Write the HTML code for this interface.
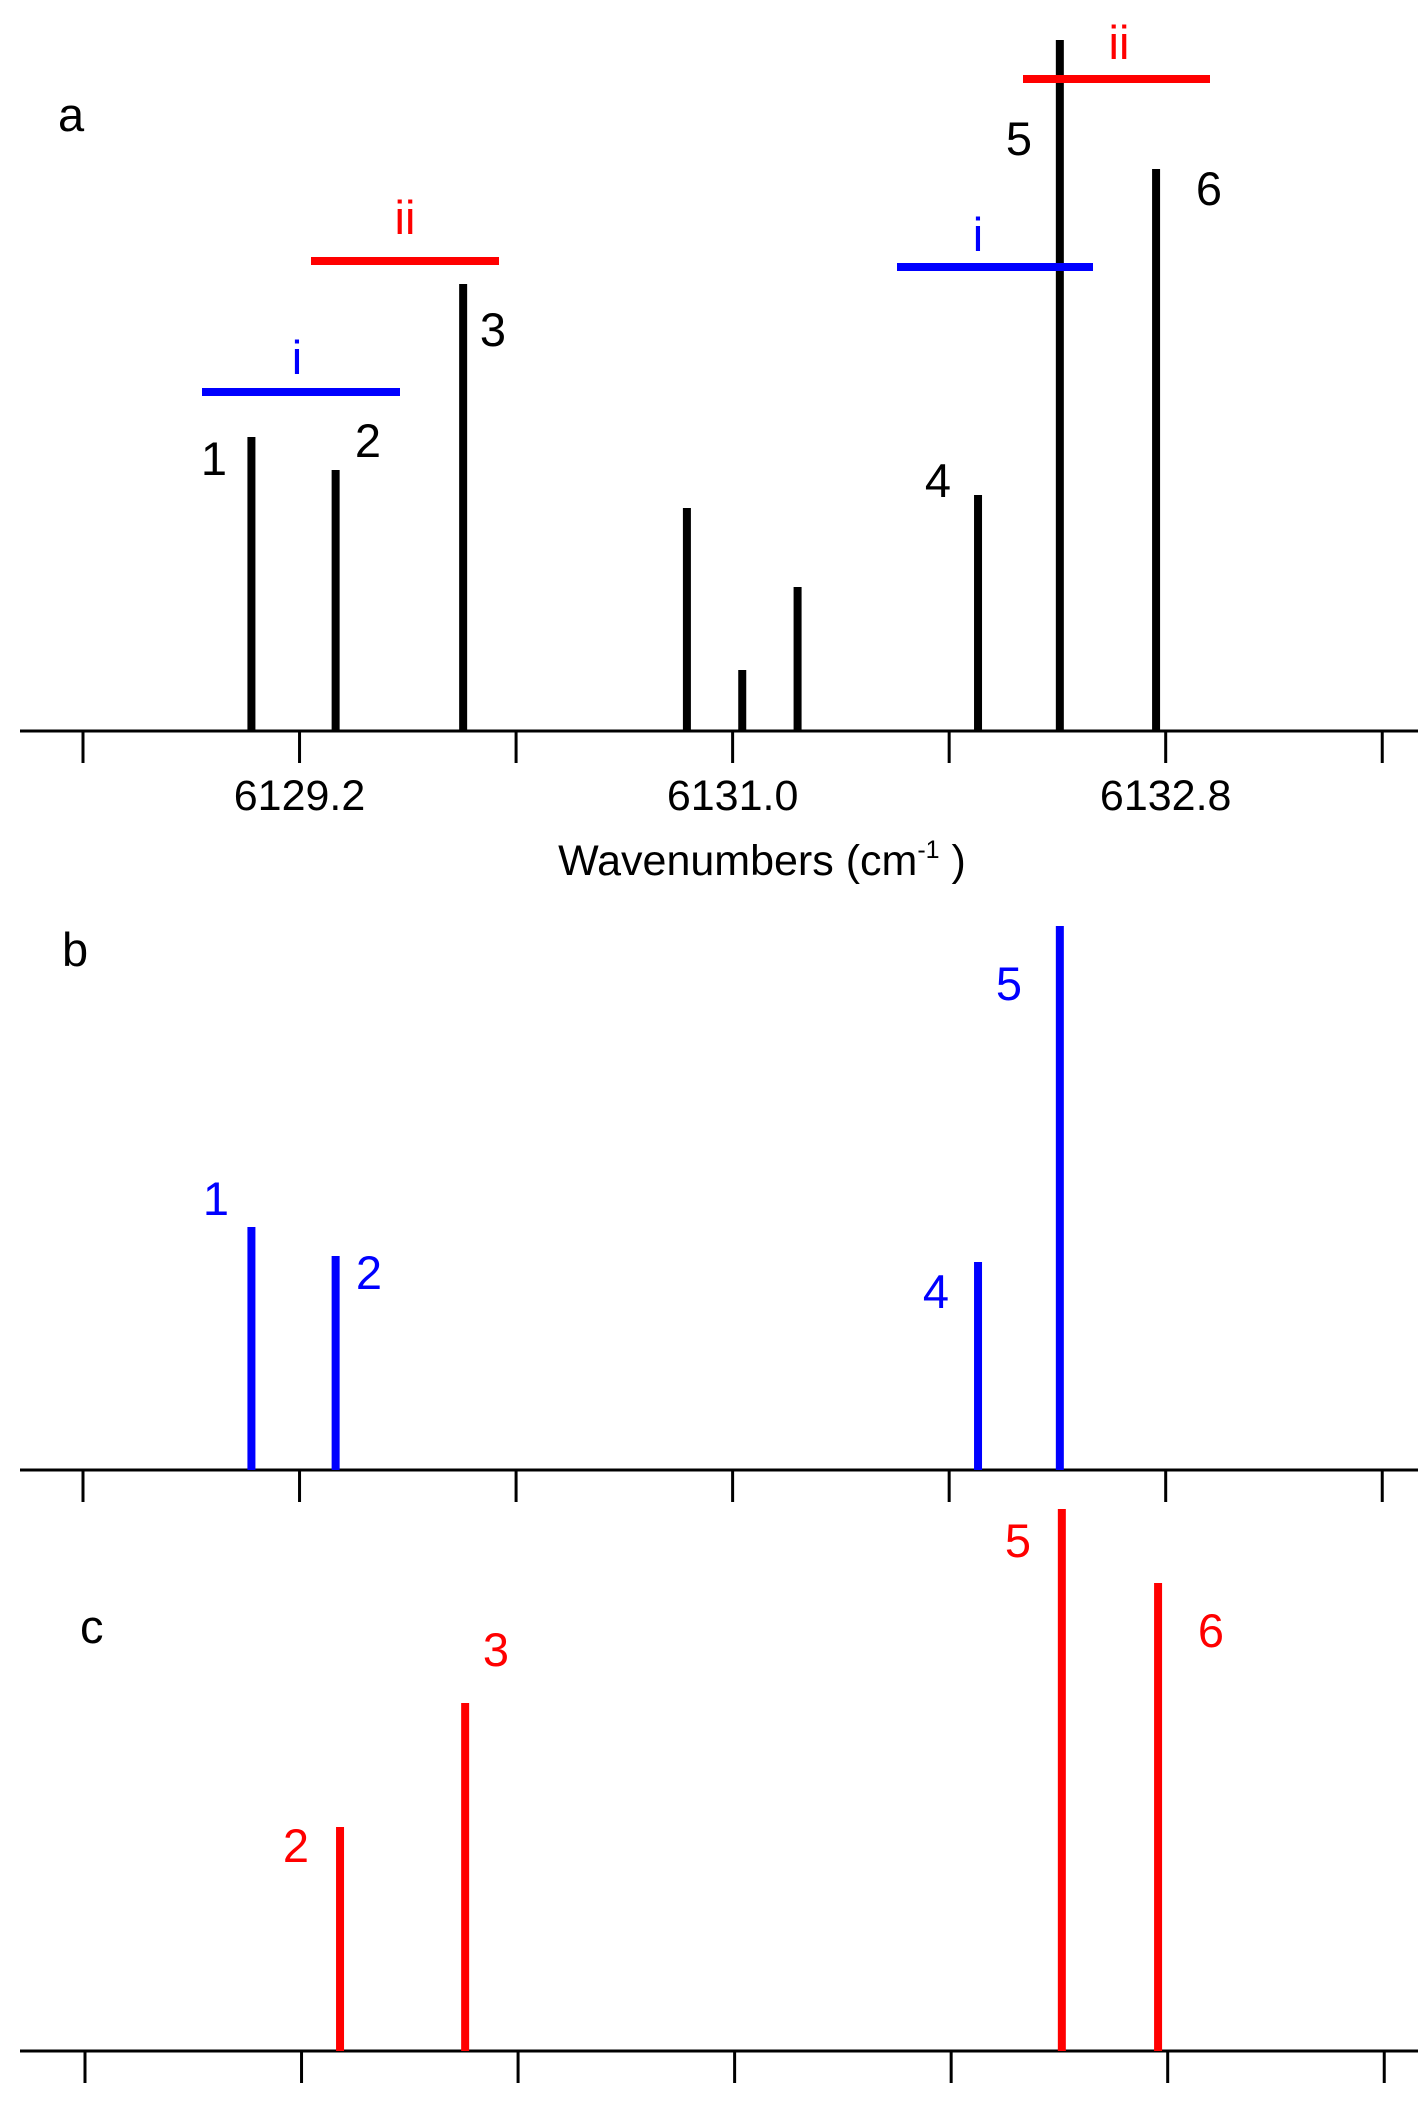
<!DOCTYPE html>
<html><head><meta charset="utf-8"><style>
html,body{margin:0;padding:0;background:#fff;}
svg{display:block;font-family:"Liberation Sans",Arial,sans-serif;}
</style></head><body>
<div style="position:relative;width:1428px;height:2119px;">
<svg id="chart" width="1428" height="2119" viewBox="0 0 1428 2119" xmlns="http://www.w3.org/2000/svg" style="position:absolute;left:0;top:0"></svg>
<svg width="1428" height="2119" style="position:absolute;left:0;top:0;font-family:'Liberation Sans',Arial,sans-serif" xmlns="http://www.w3.org/2000/svg">
<g font-size="47" text-anchor="middle">
<text x="58" y="131" text-anchor="start" fill="#000">a</text>
<text x="214" y="475" fill="#000">1</text>
<text x="368" y="457" fill="#000">2</text>
<text x="493" y="346" fill="#000">3</text>
<text x="938" y="497" fill="#000">4</text>
<text x="1019" y="155" fill="#000">5</text>
<text x="1209" y="205" fill="#000">6</text>
<text x="297" y="374" fill="#0000ff">i</text>
<text x="405" y="234" fill="#ff0000">ii</text>
<text x="978" y="251" fill="#0000ff">i</text>
<text x="1119" y="59" fill="#ff0000">ii</text>
<text x="762" y="875" font-size="43" fill="#000">Wavenumbers (cm<tspan font-size="25" dy="-17">-1</tspan><tspan dy="17"> )</tspan></text>

<text x="62" y="966" text-anchor="start" fill="#000">b</text>
<text x="216" y="1215" fill="#0000ff">1</text>
<text x="369" y="1289" fill="#0000ff">2</text>
<text x="936" y="1308" fill="#0000ff">4</text>
<text x="1009" y="1000" fill="#0000ff">5</text>

<text x="80" y="1643" text-anchor="start" fill="#000">c</text>
<text x="296" y="1862" fill="#ff0000">2</text>
<text x="496" y="1666" fill="#ff0000">3</text>
<text x="1018" y="1557" fill="#ff0000">5</text>
<text x="1211" y="1647" fill="#ff0000">6</text>
</g>
<rect x="202" y="388" width="198" height="8" fill="#0000ff"/>
<rect x="311" y="257" width="188" height="8" fill="#ff0000"/>
<rect x="897" y="263" width="196" height="8" fill="#0000ff"/>
<rect x="1023" y="75" width="187" height="8" fill="#ff0000"/>
</svg>
</div>
<script>
// Wavenumbers (cm^-1) and intensities (arbitrary units)
const tickValues = [6128.3, 6129.2, 6130.1, 6131.0, 6131.9, 6132.8, 6133.7];
const tickLabels = ["", "6129.2", "", "6131.0", "", "6132.8", ""];
const aPositions = [6129.00, 6129.35, 6129.88, 6130.81, 6131.04, 6131.27, 6132.02, 6132.36, 6132.76];
const aIntensities = [294, 261, 447, 223, 61, 144, 236, 691, 562];
const bPositions = [6129.00, 6129.35, 6132.02, 6132.36];
const bIntensities = [243, 214, 208, 544];
const cPositions = [6129.36, 6129.88, 6132.36, 6132.76];
const cIntensities = [224, 348, 542, 468];

const svg = document.getElementById('chart');
const NS = 'http://www.w3.org/2000/svg';
function mk(tag, attrs, parent) {
  const e = document.createElementNS(NS, tag);
  for (const k in attrs) e.setAttribute(k, attrs[k]);
  (parent || svg).appendChild(e);
  return e;
}
function xScale(v, off) { return 83 + off + (v - 6128.3) * 240.6; }

const panels = [
  {id: 'a', base: 731, off: 0, pos: aPositions, val: aIntensities, color: '#000'},
  {id: 'b', base: 1470, off: 0, pos: bPositions, val: bIntensities, color: '#0000ff'},
  {id: 'c', base: 2051, off: 2, pos: cPositions, val: cIntensities, color: '#ff0000'}
];

panels.forEach(p => {
  const g = mk('g', {});
  
  
  const ax = mk('line', {x1: 20, x2: 1418, y1: p.base, y2: p.base, stroke: '#000', 'stroke-width': 3}, g);
  
  
  tickValues.forEach((t, i) => {
    const x = xScale(t, p.off);
    const tk = mk('line', {x1: x, x2: x, y1: p.base, y2: p.base + 32, stroke: '#000', 'stroke-width': 3}, g);
    
    
    if (p.id === 'a' && tickLabels[i]) {
      const tl = mk('text', {x: x, y: 810, 'font-size': 43, 'text-anchor': 'middle', fill: '#000'}, g);
      tl.textContent = tickLabels[i];
      
      
    }
  });
  p.pos.forEach((w, i) => {
    const x = xScale(w, p.off);
    const h = p.val[i];
    const r = mk('rect', {x: x - 4, y: p.base - h, width: 8, height: h, fill: p.color}, g);
    
    
  });
});
</script>
</body></html>
